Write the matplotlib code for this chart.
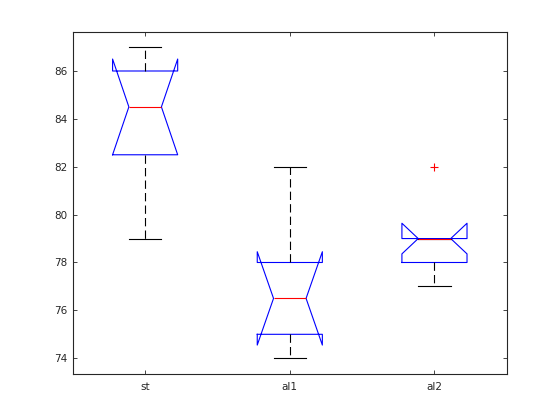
import matplotlib
matplotlib.use('Agg')
import matplotlib.pyplot as plt

# Valores (boxplot con muescas estilo MATLAB)
labels = ['st', 'al1', 'al2']
whisker_lo = [79, 74, 77]
q1 = [82.5, 75, 78]
medians = [84.5, 76.5, 79]
q3 = [86, 78, 79]
whisker_hi = [87, 82, 79]
notch_lo = [82.5, 74.55, 78.36]
notch_hi = [86.5, 78.45, 79.64]
outliers = [[], [], [82]]

stats = []
for i in range(len(labels)):
    stats.append({
        'label': labels[i],
        'whislo': whisker_lo[i], 'q1': q1[i], 'med': medians[i],
        'q3': q3[i], 'whishi': whisker_hi[i],
        'cilo': notch_lo[i], 'cihi': notch_hi[i],
        'fliers': outliers[i],
    })

plt.rcParams['lines.scale_dashes'] = False
fig = plt.figure(figsize=(5.6, 4.2), dpi=100)
ax = fig.add_axes([0.13, 0.11, 0.775, 0.815])

ax.bxp(stats, positions=[1, 2, 3], widths=0.45, shownotches=True,
       boxprops=dict(color='blue', linewidth=0.8),
       medianprops=dict(color='red', linewidth=0.8),
       whiskerprops=dict(color='black', linewidth=0.8, linestyle=(0, (6, 3))),
       capprops=dict(color='black', linewidth=0.8),
       flierprops=dict(marker='+', markeredgecolor='red', markersize=6,
                       markeredgewidth=0.8, linestyle='none'))

ax.set_xlim(0.5, 3.5)
ax.set_ylim(73.35, 87.65)
ax.set_yticks(range(74, 87, 2))
ax.set_xticks([1, 2, 3])
ax.set_xticklabels(labels)

for s in ax.spines.values():
    s.set_color('#262626')
    s.set_linewidth(0.8)
ax.tick_params(direction='in', length=3, width=0.6, color='#262626',
               labelcolor='#262626', labelsize=7.5, top=True, right=True)
ax.tick_params(axis='y', pad=4)
ax.tick_params(axis='x', pad=6)

fig.savefig('out.png', dpi=100)
